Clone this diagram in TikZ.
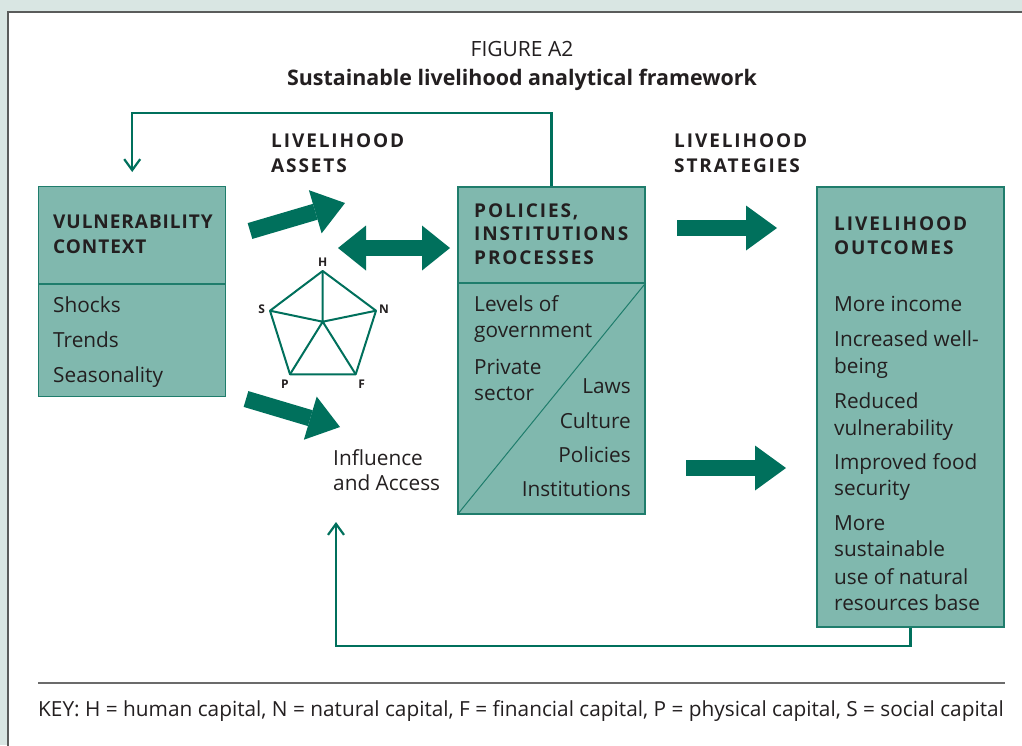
\documentclass[tikz,border=0pt]{standalone}
\usepackage{fontspec}
\setmainfont{Open Sans}
\newfontfamily\trackfont[LetterSpace=10]{Open Sans}
\newfontfamily\slightfont[LetterSpace=5]{Open Sans}
\usetikzlibrary{arrows.meta}
\definecolor{bgc}{HTML}{D9E6E3}
\definecolor{boxfill}{HTML}{80B8AE}
\definecolor{boxline}{HTML}{1F7D6C}
\definecolor{agreen}{HTML}{00705C}
\definecolor{txt}{HTML}{231F20}
\definecolor{framec}{HTML}{5A5C5B}
\definecolor{rulec}{HTML}{6B6B6B}
\begin{document}
\begin{tikzpicture}[x=1pt,y=-1pt,
 box/.style={draw=boxline, fill=boxfill, line width=1.3pt, inner sep=0pt, minimum width=187pt},
 divider/.style={draw=boxline, line width=1.3pt},
 conn/.style={draw=agreen, line width=2.2pt, -{Straight Barb[length=11pt,width=16pt]}},
 fat/.style={draw=agreen, line width=16.5pt, -{Triangle[width=45pt,length=31pt,line width=0pt]}},
 dfat/.style={draw=agreen, line width=16.5pt, {Triangle[width=45pt,length=28pt,line width=0pt]}-{Triangle[width=45pt,length=28pt,line width=0pt]}},
 txtl/.style={anchor=base west, inner sep=0pt, text=txt, font=\fontsize{20.8}{24}\selectfont},
 txtr/.style={anchor=base east, inner sep=0pt, text=txt, font=\fontsize{20.8}{24}\selectfont},
 head/.style={anchor=base west, inner sep=0pt, text=txt, font=\trackfont\bfseries\fontsize{19}{24}\selectfont},
 vhead/.style={anchor=base west, inner sep=0pt, text=txt, font=\slightfont\bfseries\fontsize{19}{24}\selectfont},
 pent/.style={draw=agreen, line width=2pt, line join=round},
 plbl/.style={anchor=base, inner sep=0pt, text=txt, font=\bfseries\fontsize{12}{14}\selectfont},
]
\useasboundingbox (0,0) rectangle (1022,745);
\fill[bgc] (0,0) rectangle (1022,745);
\draw[framec, line width=2pt, fill=white] (8,12) rectangle (1040,760);

% title
\node[anchor=base, inner sep=0pt, text=txt, font=\fontsize{21}{24}\selectfont] (fig) at (522,56) {FIGURE A2};
\node[anchor=base, inner sep=0pt, text=txt, font=\bfseries\fontsize{21.4}{24}\selectfont] (ttl) at (522,85) {Sustainable livelihood analytical framework};

% boxes
\node[box, minimum height=210pt] (vul) at (132.2,291.7) {};
\draw[divider] (vul.west |- 0,284) -- (vul.east |- 0,284);
\node[box, minimum height=327pt] (pol) at (551.5,350.5) {};
\draw[divider] (pol.west |- 0,283) -- (pol.east |- 0,283);
\draw[draw=boxline, line width=1pt] (pol.south west) -- (pol.east |- 0,283);
\node[box, minimum height=440pt] (out) at (910.5,407) {};

% vulnerability text
\node[vhead] (v1) at (53,228) {VULNERABILITY};
\node[vhead] (v2) at (53,253) {CONTEXT};
\node[txtl] (v3) at (53,312) {Shocks};
\node[txtl] (v4) at (53,347) {Trends};
\node[txtl] (v5) at (53,382) {Seasonality};

% policies text
\node[head] (p1) at (474,217) {POLICIES,};
\node[head] (p2) at (474,240.5) {INSTITUTIONS};
\node[head] (p3) at (474,264) {PROCESSES};
\node[txtl] (p4) at (474,311.7) {Levels of};
\node[txtl] (p5) at (474,337.7) {government};
\node[txtl] (p6) at (474,374.3) {Private};
\node[txtl] (p7) at (474,400) {sector};
\node[txtr] (p8) at (631,393.3) {Laws};
\node[txtr] (p9) at (631,428.3) {Culture};
\node[txtr] (p10) at (631,462.7) {Policies};
\node[txtr] (p11) at (631,496.7) {Institutions};

% outcomes text
\node[head] (o1) at (834,230) {LIVELIHOOD};
\node[head] (o2) at (834,254) {OUTCOMES};
\node[txtl] (o3) at (834,311.7) {More income};
\node[txtl] (o4) at (834,346.7) {Increased well-};
\node[txtl] (o5) at (834,373.3) {being};
\node[txtl] (o6) at (834,408.3) {Reduced};
\node[txtl] (o7) at (834,435) {vulnerability};
\node[txtl] (o8) at (834,469.3) {Improved food};
\node[txtl] (o9) at (834,495) {security};
\node[txtl] (o10) at (834,530.7) {More};
\node[txtl] (o11) at (834,556.7) {sustainable};
\node[txtl] (o12) at (834,584) {use of natural};
\node[txtl] (o13) at (834,610) {resources base};

% free labels
\node[head] (la1) at (271,147) {LIVELIHOOD};
\node[head] (la2) at (271,172) {ASSETS};
\node[head] (ls1) at (674,147) {LIVELIHOOD};
\node[head] (ls2) at (674,172) {STRATEGIES};
\node[txtl] (ia1) at (333,465) {Influence};
\node[txtl] (ia2) at (333,490) {and Access};

% pentagon
\coordinate (H) at (322.7,271);
\coordinate (N) at (376,310.7);
\coordinate (F) at (355.7,374.3);
\coordinate (P) at (290,374.3);
\coordinate (S) at (270,310.7);
\coordinate (C) at (322.7,321.7);
\draw[pent] (H) -- (N) -- (F) -- (P) -- (S) -- cycle;
\draw[pent] (H) -- (C) (S) -- (C) (N) -- (C) (P) -- (C) (F) -- (C);
\node[plbl] (lH) at (322.7,266) {H};
\node[plbl] (lN) at (384,313.3) {N};
\node[plbl] (lF) at (361.7,388.3) {F};
\node[plbl] (lP) at (285,388.3) {P};
\node[plbl] (lS) at (261.7,313.3) {S};

% fat arrows
\coordinate (a1s) at (250,231); \coordinate (a1e) at (345,203);
\coordinate (a2s) at (246,399); \coordinate (a2e) at (340,427);
\coordinate (d1) at (338,248); \coordinate (d2) at (450,248);
\coordinate (r1s) at (677,228); \coordinate (r1e) at (777,228);
\coordinate (r2s) at (686,468); \coordinate (r2e) at (786,468);
\draw[fat] (a1s) -- (a1e);
\draw[fat] (a2s) -- (a2e);
\draw[dfat] (d1) -- (d2);
\draw[fat] (r1s) -- (r1e);
\draw[fat] (r2s) -- (r2e);

% feedback connectors
\coordinate (topin) at (132.2,172);
\draw[conn] (pol.north) -- ++(0,-73) -| (topin);
\coordinate (botin) at (336,522);
\draw[conn] (out.south) -- ++(0,18) -| (botin);

% key
\coordinate (k1) at (38,683); \coordinate (k2) at (1005,683);
\draw[rulec, line width=2pt] (k1) -- (k2);
\node[txtl, font=\fontsize{20.8}{24}\selectfont] (key) at (38,716) {KEY: H = human capital, N = natural capital, F = financial capital, P = physical capital, S = social capital};
\end{tikzpicture}
\end{document}
